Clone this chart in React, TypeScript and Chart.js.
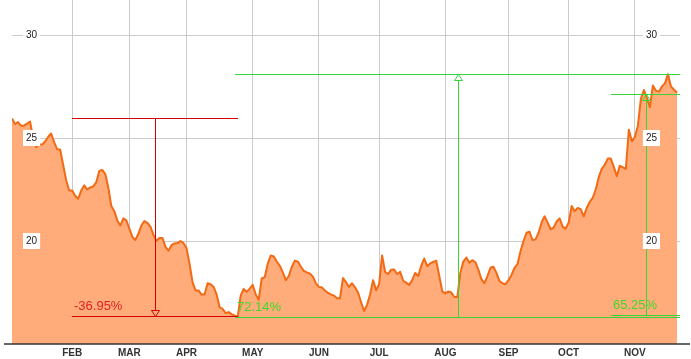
import React, { useEffect, useRef } from "react";
import { Chart, registerables } from "chart.js";

Chart.register(...registerables);

// Closing price per trading day (day 0 = first trading day of the year)
const prices = [
  25.95, 25.68, 25.77, 25.6, 25.6, 25.7, 25.8, 25.0, 24.55, 24.68,
  24.68, 24.83, 25.05, 25.22, 24.8, 24.45, 24.44, 23.7, 22.95, 22.45,
  22.45, 22.2, 22.05, 22.45, 22.7, 22.5, 22.6, 22.65, 22.85, 23.4,
  23.45, 23.25, 22.6, 21.7, 21.45, 21.0, 20.75, 21.1, 21.0, 20.6,
  20.2, 20.05, 20.35, 20.75, 20.97, 20.88, 20.7, 20.3, 20.0, 20.15,
  20.15, 19.72, 19.53, 19.8, 19.88, 19.9, 20.0, 19.9, 19.65, 18.9,
  18.0, 17.6, 17.6, 17.4, 17.4, 17.95, 17.9, 17.78, 17.4, 16.78,
  16.7, 16.5, 16.55, 16.45, 16.38, 16.31, 17.35, 17.67, 17.53, 17.69,
  17.87, 17.4, 17.15, 18.18, 18.25, 18.9, 19.3, 19.25, 19.0, 18.8,
  18.48, 18.1, 18.3, 18.75, 19.05, 19.0, 18.75, 18.55, 18.48, 18.42,
  18.27, 17.94, 17.77, 17.75, 17.6, 17.48, 17.41, 17.35, 17.22, 17.22,
  18.2, 18.01, 17.77, 17.95, 17.75, 17.5, 17.04, 16.6, 16.9, 17.4,
  18.1, 17.61, 17.9, 19.3, 18.5, 18.4, 18.6, 18.62, 18.4, 18.5,
  18.07, 17.98, 17.87, 18.1, 18.45, 18.3, 18.8, 19.15, 18.78, 18.91,
  18.98, 19.04, 18.3, 17.55, 17.46, 17.55, 17.5, 17.28, 17.28, 18.45,
  19.0, 19.2, 18.95, 19.07, 18.97, 18.6, 18.15, 17.96, 18.3, 18.7,
  18.75, 18.45, 18.05, 17.95, 17.9, 18.1, 18.35, 18.7, 18.88, 19.5,
  20.0, 20.4, 20.45, 20.05, 20.08, 20.4, 20.9, 21.2, 20.89, 20.57,
  20.65, 20.95, 21.1, 20.7, 20.6, 20.9, 21.7, 21.45, 21.6, 21.55,
  21.2, 21.6, 21.9, 22.1, 22.5, 23.1, 23.5, 23.7, 24.0, 24.0,
  23.6, 23.15, 23.65, 23.58, 23.5, 25.4, 24.84, 25.05, 25.6, 26.9,
  27.33, 26.95, 26.5, 27.55, 27.3, 27.25, 27.5, 27.65, 28.1, 27.5,
  27.35, 27.2,
];

// Trading-day index where each month starts, and its label
const monthTickDays = [20, 39, 58, 80, 102, 122, 144, 165, 185, 207];
const monthLabels = ["FEB", "MAR", "APR", "MAY", "JUN", "JUL", "AUG", "SEP", "OCT", "NOV"];

// Price axis ticks
const priceTicks = [20, 25, 30];
const priceMin = 15;
const priceMax = 31.7;
const dayMax = 222;

// Measurement annotations (span in trading days, from-price, to-price, label)
const measureStartDay = [20, 74, 199];
const measureEndDay = [75, 222, 222];
const measureFrom = [25.97, 16.33, 16.42];
const measureTo = [16.36, 28.12, 27.16];
const measureLabels = ["-36.95%", "72.14%", "65.25%"];

const FONT = 'Arial, "Liberation Sans", sans-serif';
const RED_LINE = "#d40000";
const RED_TEXT = "#e02222";
const GREEN_LINE = "#38d438";
const GREEN_TEXT = "#3fd92a";

const measurePlugin = {
  id: "measure",
  afterDatasetsDraw(chart: any) {
    const { ctx } = chart;
    const x = chart.scales.x;
    const y = chart.scales.y;
    ctx.save();
    measureFrom.forEach((from, i) => {
      const to = measureTo[i];
      const up = to > from;
      const x0 = Math.round(x.getPixelForValue(measureStartDay[i]));
      const x1 = Math.round(x.getPixelForValue(measureEndDay[i]));
      const xm = Math.round((x0 + x1) / 2);
      const yF = Math.round(y.getPixelForValue(from));
      const yT = Math.round(y.getPixelForValue(to));
      const color = up ? GREEN_LINE : RED_LINE;
      ctx.fillStyle = color;
      const ah = 6;
      const aw = 4;
      const base = yT + (up ? 1 : -1) * ah;
      // horizontal reference lines
      ctx.fillRect(x0, yF, x1 - x0, 1);
      ctx.fillRect(x0, yT, x1 - x0, 1);
      // vertical measuring line
      const vTop = Math.min(yF, base);
      const vBot = Math.max(yF, base);
      ctx.fillRect(xm, vTop, 1, vBot - vTop);
      // open arrow head
      ctx.strokeStyle = color;
      ctx.lineWidth = 1;
      ctx.beginPath();
      ctx.moveTo(xm + 0.5, yT + 0.5);
      ctx.lineTo(xm + 0.5 - aw, base + 0.5);
      ctx.lineTo(xm + 0.5 + aw, base + 0.5);
      ctx.closePath();
      ctx.stroke();
      const low = Math.max(yF, yT);
      ctx.fillStyle = up ? GREEN_TEXT : RED_TEXT;
      ctx.font = "13px " + FONT;
      ctx.textAlign = "left";
      ctx.textBaseline = "alphabetic";
      ctx.fillText(measureLabels[i], x0 + 2, low - 6);
    });
    ctx.restore();
  },
};

const axisLinePlugin = {
  id: "axisLine",
  afterDraw(chart: any) {
    const { ctx, chartArea } = chart;
    ctx.save();
    ctx.strokeStyle = "#333";
    ctx.lineWidth = 1.5;
    ctx.beginPath();
    ctx.moveTo(chartArea.left - 8, chartArea.bottom);
    ctx.lineTo(chartArea.right + 10, chartArea.bottom);
    ctx.stroke();
    ctx.restore();
  },
};

const labelAxis = (position: "left" | "right", padding: number) => ({
  type: "linear",
  position,
  min: priceMin,
  max: priceMax,
  grid: { display: false },
  border: { display: false },
  afterBuildTicks: (s: any) => {
    s.ticks = priceTicks.map((v) => ({ value: v }));
  },
  afterFit: (s: any) => {
    s.width = 0;
    s.paddingTop = 0;
    s.paddingBottom = 0;
  },
  ticks: {
    z: 1,
    mirror: true,
    padding,
    color: "#222",
    font: { size: 10, family: FONT },
    showLabelBackdrop: true,
    backdropColor: "#ffffff",
    backdropPadding: { top: 2, bottom: 2, left: 3, right: 3 },
  },
});

export default function App() {
  const ref = useRef<HTMLCanvasElement>(null);
  useEffect(() => {
    const chart = new Chart(ref.current as HTMLCanvasElement, {
      type: "line",
      data: {
        datasets: [
          {
            data: prices.map((p, i) => ({ x: i, y: p })),
            borderColor: "#f26a13",
            backgroundColor: "#ffab7a",
            fill: "start",
            borderWidth: 2,
            pointRadius: 0,
            tension: 0,
            borderJoinStyle: "round",
            xAxisID: "x",
            yAxisID: "y",
          },
        ],
      },
      options: {
        responsive: false,
        animation: false,
        layout: { padding: { left: 12, right: 11, top: 0, bottom: 0 } },
        plugins: { legend: { display: false }, tooltip: { enabled: false } },
        scales: {
          x: {
            type: "linear",
            position: "bottom",
            min: 0,
            max: dayMax,
            grid: { color: "#cccccc", lineWidth: 1, drawTicks: false },
            border: { display: false },
            afterBuildTicks: (s: any) => {
              s.ticks = monthTickDays.map((v) => ({ value: v }));
            },
            afterFit: (s: any) => {
              s.height = 15;
              s.paddingLeft = 0;
              s.paddingRight = 0;
            },
            ticks: {
              autoSkip: false,
              maxRotation: 0,
              padding: 3,
              color: "#333",
              font: { size: 10, weight: "bold", family: FONT },
              callback: (v: any) => monthLabels[monthTickDays.indexOf(Number(v))] ?? "",
            },
          },
          y: {
            type: "linear",
            position: "left",
            min: priceMin,
            max: priceMax,
            grid: { color: "#cccccc", lineWidth: 1, drawTicks: false },
            border: { display: false },
            afterBuildTicks: (s: any) => {
              s.ticks = priceTicks.map((v) => ({ value: v }));
            },
            afterFit: (s: any) => {
              s.width = 0;
              s.paddingTop = 0;
              s.paddingBottom = 0;
            },
            ticks: { display: false },
          },
          yL: labelAxis("left", 14),
          yR: labelAxis("right", -23),
        } as any,
      },
      plugins: [measurePlugin, axisLinePlugin],
    } as any);
    return () => chart.destroy();
  }, []);
  return (
    <div style={{ position: "absolute", left: 0, top: 0, width: 691, height: 359 }}>
      <canvas ref={ref} width={691} height={359} style={{ display: "block" }} />
    </div>
  );
}
